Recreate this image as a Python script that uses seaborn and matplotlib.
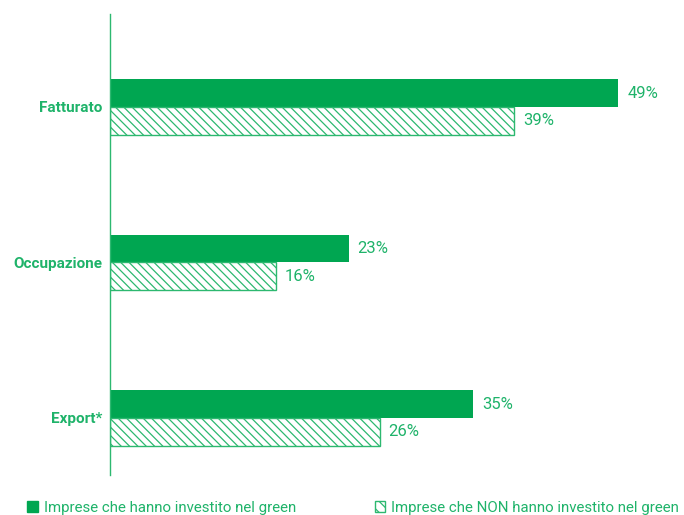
import matplotlib
matplotlib.use("Agg")
import matplotlib.pyplot as plt
import matplotlib.patches as mpatches
import seaborn as sns
import pandas as pd

categories = ["Fatturato", "Occupazione", "Export*"]
green_invest = [49, 23, 35]
nongreen_invest = [39, 16, 26]
series_names = ["Imprese che hanno investito nel green",
                "Imprese che NON hanno investito nel green"]

GREEN = "#00A651"
TEXT_GREEN = "#1FB36A"
HATCH_GREEN = "#2DB870"

sns.set_theme(style="white")
plt.rcParams['font.family'] = ['Roboto', 'DejaVu Sans']
plt.rcParams['hatch.linewidth'] = 0.9
plt.rcParams['hatch.color'] = HATCH_GREEN

df = pd.DataFrame({
    "cat": categories * 2,
    "val": green_invest + nongreen_invest,
    "serie": [series_names[0]] * 3 + [series_names[1]] * 3,
})

fig = plt.figure(figsize=(6.84, 5.15), dpi=100)
ax = fig.add_axes([110 / 684, 1 - 475 / 515, (684 - 110) / 684, (475 - 14) / 515])

sns.barplot(data=df, y="cat", x="val", hue="serie", orient="h",
            palette=[GREEN, "white"], width=0.355, ax=ax, legend=False,
            saturation=1)

for c_i, cont in enumerate(ax.containers):
    for p in cont:
        if c_i == 0:
            p.set_facecolor(GREEN)
            p.set_edgecolor(GREEN)
            p.set_linewidth(0)
        else:
            p.set_facecolor("white")
            p.set_edgecolor(HATCH_GREEN)
            p.set_hatch("\\\\\\\\")
            p.set_linewidth(1.0)
    ax.bar_label(cont, labels=[f"{int(v)}%" for v in cont.datavalues],
                 padding=6.5, color=TEXT_GREEN, fontsize=12)

ax.set_xlim(0, (684 - 110) / 10.37)
ax.set_ylim(2.367, -0.598)
ax.set_xlabel("")
ax.set_ylabel("")
ax.set_xticks([])
ax.tick_params(axis="y", length=0, pad=5.5)
for lab in ax.get_yticklabels():
    lab.set_color(TEXT_GREEN)
    lab.set_fontweight("bold")
    lab.set_fontsize(11)
for s in ["top", "right", "bottom"]:
    ax.spines[s].set_visible(False)
ax.spines["left"].set_color(HATCH_GREEN)
ax.spines["left"].set_linewidth(1.0)

h1 = mpatches.Patch(facecolor=GREEN, edgecolor=GREEN, label=series_names[0])
h2 = mpatches.Patch(facecolor="white", edgecolor=HATCH_GREEN, hatch="\\\\\\",
                    label=series_names[1])
leg = fig.legend(handles=[h1, h2], loc="center left",
                 bbox_to_anchor=(27 / 684, 1 - 508 / 515), ncol=2,
                 frameon=False, fontsize=10.8, handlelength=0.72,
                 handleheight=0.72, handletextpad=0.4, columnspacing=5.24,
                 borderaxespad=0, borderpad=0)
for t in leg.get_texts():
    t.set_color(TEXT_GREEN)

fig.savefig("out.png", dpi=100)
